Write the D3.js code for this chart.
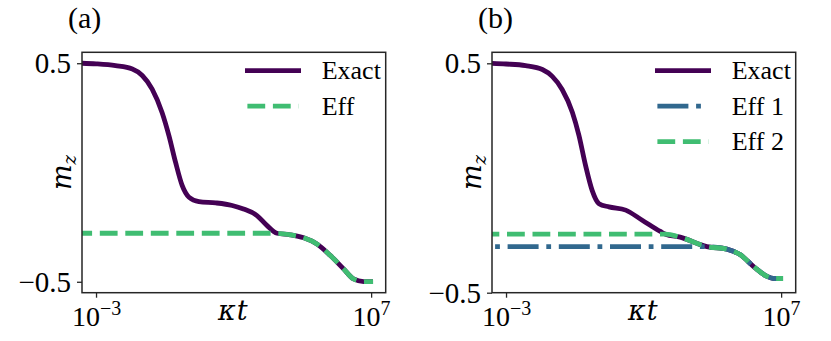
<!DOCTYPE html>
<html>
<head>
<meta charset="utf-8">
<script src="https://cdn.jsdelivr.net/npm/d3@7"></script>
<style>
  body { margin: 0; background: #fff; }
</style>
</head>
<body>
<script>

// data: log10(kappa t) and m_z

// panel (a)
var exactA_logt = [-3.51, -3.0, -2.29, -1.68, -1.32, -0.96, -0.60, -0.35, -0.11, 0.13, 0.38, 0.74, 1.35, 1.95, 2.36, 2.85, 3.21, 3.58, 4.06, 4.55, 5.03, 5.52, 6.00, 6.36, 6.73, 7.07];
var exactA_mz   = [0.500, 0.497, 0.489, 0.474, 0.444, 0.382, 0.275, 0.169, 0.047, -0.059, -0.113, -0.133, -0.139, -0.151, -0.167, -0.197, -0.242, -0.278, -0.285, -0.299, -0.327, -0.380, -0.441, -0.487, -0.499, -0.499];
var effA_logt   = [-3.51, 3.58, 4.06, 4.55, 5.03, 5.52, 6.00, 6.36, 6.73, 7.07];
var effA_mz     = [-0.278, -0.278, -0.285, -0.299, -0.327, -0.380, -0.441, -0.487, -0.499, -0.499];

// panel (b)
var exactB_logt = [-3.51, -3.0, -2.29, -1.68, -1.32, -0.96, -0.59, -0.35, -0.11, 0.13, 0.38, 0.74, 1.35, 1.95, 2.61, 2.80, 3.33, 4.30, 5.03, 5.52, 6.00, 6.49, 6.73, 7.07];
var exactB_mz   = [0.500, 0.497, 0.490, 0.473, 0.443, 0.386, 0.287, 0.186, 0.055, -0.054, -0.112, -0.126, -0.140, -0.184, -0.233, -0.245, -0.258, -0.299, -0.310, -0.335, -0.386, -0.429, -0.438, -0.438];
var eff1B_logt  = [-3.51, 4.30, 5.03, 5.52, 6.00, 6.49, 6.73, 7.07];
var eff1B_mz    = [-0.299, -0.299, -0.310, -0.335, -0.386, -0.429, -0.438, -0.438];
var eff2B_logt  = [-3.51, 2.80, 3.33, 4.30, 5.03, 5.52, 6.00, 6.49, 6.73, 7.07];
var eff2B_mz    = [-0.245, -0.245, -0.258, -0.299, -0.310, -0.335, -0.386, -0.429, -0.438, -0.438];

var xTicks = [1e-3, 1e7];
var xTickExp = ["\u22123", "7"];
var yTicks = [-0.5, 0.5];
var panelLabels = ["(a)", "(b)"];

var PURPLE = "#440154", BLUE = "#31688e", GREEN = "#40bd72";
var LW = 4.8;
var FONT = "Liberation Serif";
// Liberation Serif has no italic face here, so math letters use DejaVu Serif
var MATH = "DejaVu Serif";

var svg = d3.select("body").append("svg")
  .attr("width", 831)
  .attr("height", 341);

var zip = function(a, b) {
  return a.map(function(v, i) { return [v, b[i]]; });
};

var drawPanel = function(cfg) {
  var left = 82, right = 385.7, top = 52.3, bottom = 292.7;
  var g = svg.append("g").attr("transform", "translate(" + cfg.dx + ",0)");

  var x = d3.scaleLog()
    .domain([Math.pow(10, -3.51), Math.pow(10, 7.53)])
    .range([left, right]);
  var y = d3.scaleLinear()
    .domain(cfg.yDomain)
    .range([bottom, top]);

  var clipId = "clip-" + cfg.name;
  g.append("clipPath").attr("id", clipId)
    .append("rect")
    .attr("x", left).attr("y", top)
    .attr("width", right - left).attr("height", bottom - top);

  var line = d3.line()
    .x(function(d) { return x(Math.pow(10, d[0])); })
    .y(function(d) { return y(d[1]); })
    .curve(d3.curveMonotoneX);

  var curves = g.append("g").attr("clip-path", "url(#" + clipId + ")");
  cfg.series.forEach(function(s) {
    curves.append("path")
      .datum(zip(s.logt, s.mz))
      .attr("d", line)
      .attr("fill", "none")
      .attr("stroke", s.color)
      .attr("stroke-width", LW)
      .attr("stroke-linejoin", "round")
      .attr("stroke-dasharray", s.dash || null)
      .attr("stroke-dashoffset", s.offset || 0);
  });

  // y axis
  var yAxis = g.append("g")
    .attr("transform", "translate(" + left + ",0)")
    .call(d3.axisLeft(y).tickValues(yTicks).tickSize(5).tickPadding(6)
      .tickFormat(function(d) { return d < 0 ? "\u22120.5" : "0.5"; }));
  yAxis.attr("font-family", FONT);
  yAxis.select(".domain").remove();
  yAxis.selectAll("line").attr("stroke", "#262626").attr("stroke-width", 1.3);
  yAxis.selectAll("text").attr("font-size", 29).attr("dy", "0.33em")
    .attr("font-family", FONT).attr("fill", "#000");

  // x axis
  var xAxis = g.append("g")
    .attr("transform", "translate(0," + bottom + ")")
    .call(d3.axisBottom(x).tickValues(xTicks).tickSize(5).tickFormat(""));
  xAxis.attr("font-family", FONT);
  xAxis.select(".domain").remove();
  xAxis.selectAll("line").attr("stroke", "#262626").attr("stroke-width", 1.3);
  xAxis.selectAll(".tick text").each(function(d, i) {
    var t = d3.select(this).text(null).attr("y", 33.5).attr("dy", 0)
      .attr("text-anchor", "middle").attr("fill", "#000")
      .attr("font-family", FONT);
    t.append("tspan").attr("font-size", 28).text("10");
    t.append("tspan").attr("font-size", 20).attr("dy", -11).text(xTickExp[i]);
  });

  // frame
  g.append("rect")
    .attr("x", left).attr("y", top)
    .attr("width", right - left).attr("height", bottom - top)
    .attr("fill", "none")
    .attr("stroke", "#262626")
    .attr("stroke-width", 1.5);

  // axis labels
  var xl = g.append("text")
    .attr("x", (left + right) / 2 - 1)
    .attr("y", 320)
    .attr("text-anchor", "middle")
    .attr("font-family", MATH)
    .attr("font-size", 27)
    .attr("font-style", "italic");
  xl.append("tspan").text("\u03BA");
  xl.append("tspan").attr("dx", 1).text("t");

  var yl = g.append("text")
    .attr("transform", "translate(71," + ((top + bottom) / 2) + ") rotate(-90)")
    .attr("text-anchor", "middle")
    .attr("font-family", MATH)
    .attr("font-size", 27)
    .attr("font-style", "italic");
  yl.append("tspan").text("m");
  yl.append("tspan").attr("font-size", 18).attr("dy", 5).text("z");

  // panel label
  g.append("text")
    .attr("x", 68)
    .attr("y", 28)
    .attr("font-family", FONT)
    .attr("font-size", 30)
    .text(cfg.label);

  // legend
  var lx0 = right - 138.3, lx1 = right - 87.1;
  cfg.series.forEach(function(s, i) {
    var ly = 70.7 + i * 35.5;
    g.append("line")
      .attr("x1", lx0).attr("x2", lx1)
      .attr("y1", ly).attr("y2", ly)
      .attr("stroke", s.color)
      .attr("stroke-width", LW)
      .attr("stroke-linecap", s.dash ? "butt" : "square")
      .attr("stroke-dasharray", s.dash || null);
    g.append("text")
      .attr("x", right - 64)
      .attr("y", ly + 8.7)
      .attr("font-family", FONT)
      .attr("font-size", 26)
      .text(s.name);
  });
};

drawPanel({
  name: "a",
  dx: 0,
  label: panelLabels[0],
  yDomain: [-0.55, 0.55],
  series: [
    { name: "Exact", logt: exactA_logt, mz: exactA_mz, color: PURPLE },
    { name: "Eff", logt: effA_logt, mz: effA_mz, color: GREEN, dash: "17.8,7.7", offset: 7.7 }
  ]
});

drawPanel({
  name: "b",
  dx: 410,
  label: panelLabels[1],
  yDomain: [-0.5, 0.548],
  series: [
    { name: "Exact", logt: exactB_logt, mz: exactB_mz, color: PURPLE },
    { name: "Eff 1", logt: eff1B_logt, mz: eff1B_mz, color: BLUE, dash: "31,7.7,4.8,7.7", offset: 35.6 },
    { name: "Eff 2", logt: eff2B_logt, mz: eff2B_mz, color: GREEN, dash: "17.8,7.7", offset: 10.5 }
  ]
});

</script>
</body>
</html>
